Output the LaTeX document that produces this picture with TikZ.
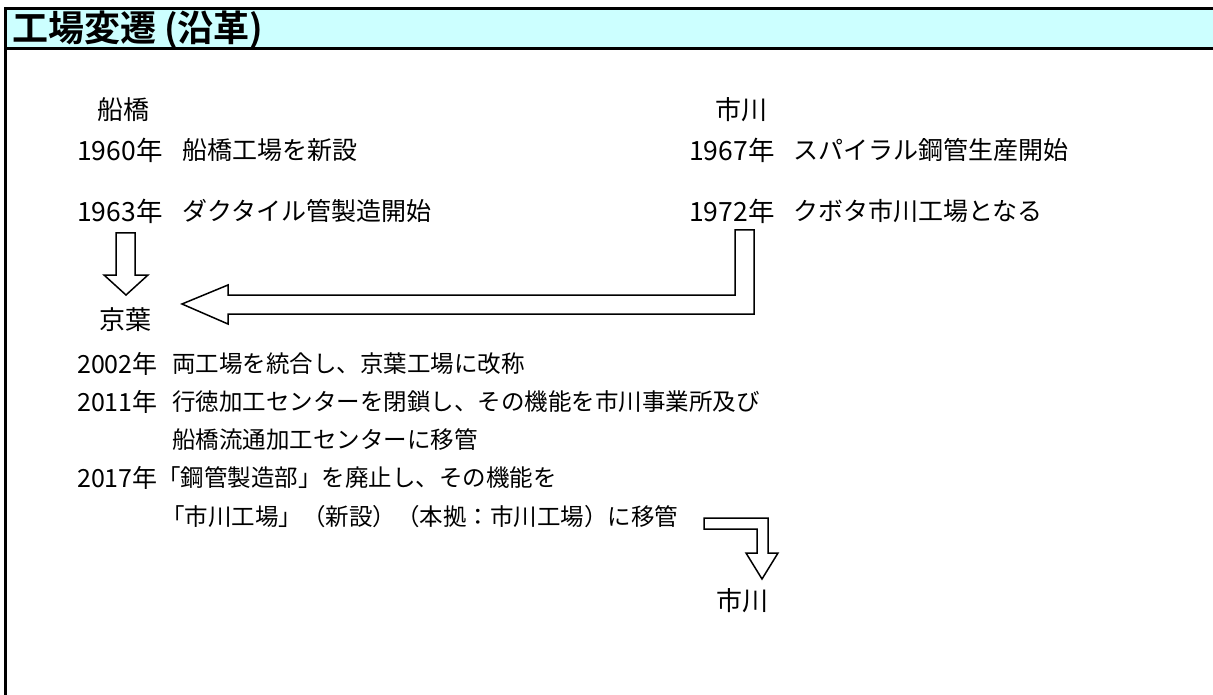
\documentclass[tikz,border=0pt]{standalone}
\usepackage{fontspec}
\setmainfont{Noto Sans CJK JP}[BoldFont=Noto Sans CJK JP Bold]
\definecolor{headcyan}{HTML}{CCFFFF}

\begin{document}
\begin{tikzpicture}[x=1pt, y=-1pt,
    upper/.style={anchor=west, inner sep=0pt, font=\fontsize{25}{30}\selectfont},
    lower/.style={anchor=west, inner sep=0pt, font=\fontsize{23.5}{28}\selectfont},
    yrup/.style={anchor=west, inner sep=0pt, font=\fontsize{26.5}{30}\selectfont},
    yrlow/.style={anchor=west, inner sep=0pt, font=\fontsize{25}{28}\selectfont},
    place/.style={anchor=west, inner sep=0pt, font=\fontsize{26}{30}\selectfont},
    hollow/.style={draw=black, line width=1.5pt, fill=white, line join=miter}]

  \useasboundingbox (0,0) rectangle (1213,695);

  % Title bar
  \fill[headcyan] (5.5,8.5) rectangle (1213,48.5);
  \draw[line width=3pt] (1213,8.5) -- (5.5,8.5) -- (5.5,695);
  \draw[line width=3pt] (5.5,48.5) -- (1213,48.5);
  \node[anchor=west, inner sep=0pt, font=\bfseries\fontsize{36}{40}\selectfont] (title) at (12,30) {工場変遷 (沿革)};

  % Funabashi
  \node[place] (funabashi) at (97,110) {船橋};
  \node[yrup] (y1960) at (77,150) {1960年};
  \node[upper] (t1960) at (182,150) {船橋工場を新設};
  \node[yrup] (y1963) at (77,211) {1963年};
  \node[upper] (t1963) at (182,211) {ダクタイル管製造開始};

  % Ichikawa
  \node[place] (ichikawa) at (715,110) {市川};
  \node[yrup] (y1967) at (689,150) {1967年};
  \node[upper] (t1967) at (793,150) {スパイラル鋼管生産開始};
  \node[yrup] (y1972) at (689,211) {1972年};
  \node[upper] (t1972) at (793,211) {クボタ市川工場となる};

  % Arrows into Keiyo
  \draw[hollow] (116,233) -- (135,233) -- (135,275) -- (148,275) -- (126,295)
    -- (104,275) -- (116,275) -- cycle;
  \draw[hollow] (735,230) -- (754,230) -- (754,314) -- (228,314) -- (228,324)
    -- (182,304) -- (228,285) -- (228,295) -- (735,295) -- cycle;

  % Keiyo
  \node[place] (keiyo) at (99,320) {京葉};
  \node[yrlow] (y2002) at (77,364) {2002年};
  \node[lower] (t2002) at (172,364) {両工場を統合し、京葉工場に改称};
  \node[yrlow] (y2011) at (77,402) {2011年};
  \node[lower] (t2011) at (172,402) {行徳加工センターを閉鎖し、その機能を市川事業所及び};
  \node[lower] (t2011b) at (172,440) {船橋流通加工センターに移管};
  \node[yrlow] (y2017) at (77,478) {2017年};
  \node[lower] (t2017) at (157,478) {「鋼管製造部」を廃止し、その機能を};
  \node[lower] (t2017b) at (161,517) {「市川工場」（新設）（本拠：市川工場）に移管};

  % Back to Ichikawa
  \draw[hollow] (704,518) -- (768,518) -- (768,553) -- (778,553) -- (762,579)
    -- (746,553) -- (757,553) -- (757,529) -- (704,529) -- cycle;
  \node[place] (ichikawa2) at (716,601) {市川};

\end{tikzpicture}
\end{document}
